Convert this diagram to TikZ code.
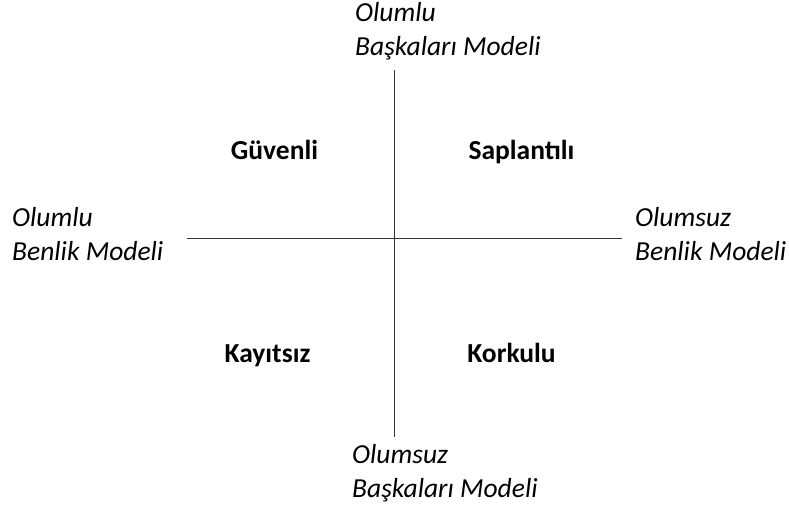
\documentclass[tikz,border=0pt]{standalone}
\usepackage{fontspec}
\setmainfont{Carlito}
\usetikzlibrary{positioning}

\begin{document}
\begin{tikzpicture}[x=1pt,y=-1pt,
  axis/.style={line width=1pt,black!80},
  pole/.style={anchor=base west,align=left,inner sep=0pt,font=\fontsize{27.5}{33.5}\selectfont\itshape},
  style/.style={anchor=base,inner sep=0pt,font=\fontsize{27.5}{33.5}\selectfont\bfseries}]
\useasboundingbox (0,0) rectangle (789,509);
% axes
\coordinate (top) at (394,70);
\coordinate (bot) at (394,437);
\coordinate (lft) at (187,238);
\coordinate (rgt) at (622,238);
\draw[axis] (top) -- (bot);
\draw[axis] (lft) -- (rgt);
% pole labels (base = second line)
\node[pole] (others+) at (355,55) {Olumlu\\Başkaları Modeli};
\node[pole] (self+) at (12,260) {Olumlu\\Benlik Modeli};
\node[pole] (self-) at (635,260) {Olumsuz\\Benlik Modeli};
\node[pole] (others-) at (352,497) {Olumsuz\\Başkaları Modeli};
% quadrants
\node[style] (secure) at (274.5,159) {Güvenli};
\node[style] (preocc) at (521.5,159) {Saplantılı};
\node[style] (dismiss) at (267.5,362) {Kayıtsız};
\node[style] (fearful) at (511.5,362) {Korkulu};
\end{tikzpicture}
\end{document}
